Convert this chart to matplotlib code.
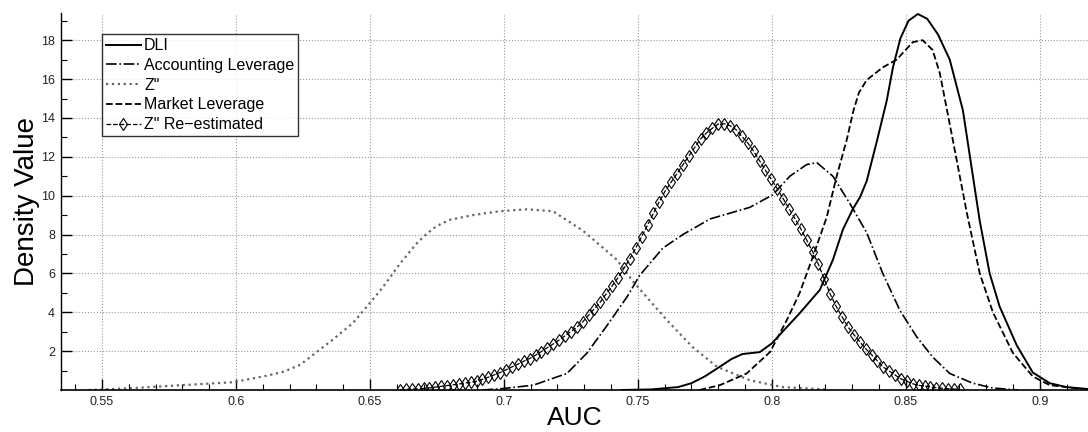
"""Kernel density of AUC values for the five default-prediction models."""

import matplotlib
matplotlib.use("Agg")
import matplotlib.pyplot as plt
from matplotlib.ticker import MultipleLocator, FixedLocator

plt.rcParams["font.family"] = ["Liberation Sans", "DejaVu Sans"]

# ── Data ─────────────────────────────────────────────────────────────
DLI_X = [0.744, 0.755, 0.765, 0.770, 0.775, 0.7806, 0.785, 0.789, 0.7955, 0.800,
         0.804, 0.8104, 0.8179, 0.8228, 0.8265, 0.8302, 0.833, 0.8354, 0.8392, 0.8429,
         0.8452, 0.848, 0.851, 0.8545, 0.858, 0.862, 0.8664, 0.8713, 0.8745, 0.8776,
         0.8813, 0.885, 0.8914, 0.8974, 0.9037, 0.910, 0.918]
DLI_Y = [0.0, 0.03, 0.15, 0.35, 0.7, 1.2, 1.6, 1.85, 1.95, 2.4,
         3.0, 3.95, 5.15, 6.7, 8.25, 9.3, 9.95, 10.75, 12.8, 14.9,
         16.6, 18.1, 19.0, 19.35, 19.1, 18.3, 17.0, 14.4, 11.5, 8.7,
         6.0, 4.3, 2.3, 0.9, 0.35, 0.15, 0.05]

ACC_X = [0.692, 0.700, 0.711, 0.7235, 0.731, 0.7384, 0.746, 0.7507, 0.7593, 0.7668,
         0.7769, 0.7918, 0.8004, 0.8067, 0.8130, 0.8168, 0.8228, 0.8291, 0.8354, 0.8414,
         0.8478, 0.854, 0.860, 0.8664, 0.875, 0.8825, 0.892]
ACC_Y = [0.0, 0.08, 0.25, 0.85, 1.9, 3.3, 4.8, 5.9, 7.3, 8.0,
         8.8, 9.4, 10.05, 11.0, 11.6, 11.7, 11.0, 9.6, 8.1, 6.0,
         4.1, 2.75, 1.7, 0.85, 0.35, 0.1, 0.0]

Z_X = [0.545, 0.5616, 0.580, 0.5989, 0.612, 0.618, 0.624, 0.6287, 0.6362, 0.6437,
       0.6489, 0.6549, 0.6612, 0.6675, 0.6705, 0.6735, 0.6765, 0.6799, 0.6884, 0.6985,
       0.7086, 0.7183, 0.7295, 0.7422, 0.7481, 0.7608, 0.7705, 0.7795, 0.7918, 0.804,
       0.820]
Z_Y = [0.0, 0.1, 0.25, 0.4, 0.75, 0.95, 1.3, 1.8, 2.6, 3.45,
       4.3, 5.3, 6.5, 7.55, 7.95, 8.3, 8.55, 8.76, 9.0, 9.2,
       9.3, 9.2, 8.2, 6.7, 5.6, 3.6, 2.2, 1.2, 0.5, 0.15,
       0.03]

MKT_X = [0.773, 0.7806, 0.7906, 0.7993, 0.8056, 0.8104, 0.8153, 0.8205, 0.8242, 0.828,
         0.8305, 0.8325, 0.8354, 0.8414, 0.8466, 0.8526, 0.8563, 0.860, 0.8627, 0.8675,
         0.8728, 0.8776, 0.8825, 0.890, 0.8974, 0.9037, 0.916]
MKT_Y = [0.0, 0.25, 0.85, 1.95, 3.6, 5.0, 6.85, 8.9, 11.0, 12.9,
         14.4, 15.3, 15.95, 16.6, 17.0, 17.9, 18.0, 17.5, 16.3, 12.9,
         9.1, 6.0, 4.0, 1.9, 0.7, 0.25, 0.05]

ZRE_X = [0.6612, 0.6634, 0.6656, 0.6678, 0.6700, 0.6722, 0.6744, 0.6766, 0.6788, 0.6810,
         0.6832, 0.6854, 0.6876, 0.6898, 0.6920, 0.6942, 0.6964, 0.6986, 0.7008, 0.7030,
         0.7052, 0.7074, 0.7096, 0.7118, 0.7140, 0.7162, 0.7184, 0.7206, 0.7228, 0.7250,
         0.7272, 0.7294, 0.7316, 0.7338, 0.7360, 0.7382, 0.7404, 0.7426, 0.7448, 0.7470,
         0.7492, 0.7514, 0.7536, 0.7558, 0.7580, 0.7602, 0.7624, 0.7646, 0.7668, 0.7690,
         0.7712, 0.7734, 0.7756, 0.7778, 0.7800, 0.7822, 0.7844, 0.7866, 0.7888, 0.7910,
         0.7932, 0.7954, 0.7976, 0.7998, 0.8020, 0.8042, 0.8064, 0.8086, 0.8108, 0.8130,
         0.8152, 0.8174, 0.8196, 0.8218, 0.8240, 0.8262, 0.8284, 0.8306, 0.8328, 0.8350,
         0.8372, 0.8394, 0.8416, 0.8438, 0.8460, 0.8482, 0.8504, 0.8526, 0.8548, 0.8570,
         0.8592, 0.8614, 0.8636, 0.8658, 0.8680, 0.8702]
ZRE_Y = [0.02, 0.03, 0.05, 0.06, 0.08, 0.11, 0.15, 0.19, 0.23, 0.27,
         0.31, 0.36, 0.40, 0.45, 0.55, 0.66, 0.78, 0.90, 1.04, 1.19,
         1.33, 1.48, 1.62, 1.79, 1.98, 2.18, 2.37, 2.57, 2.79, 3.01,
         3.23, 3.50, 3.85, 4.19, 4.53, 4.95, 5.36, 5.78, 6.26, 6.75,
         7.30, 7.89, 8.48, 9.09, 9.69, 10.24, 10.69, 11.14, 11.59, 12.04,
         12.48, 12.92, 13.23, 13.47, 13.69, 13.70, 13.60, 13.40, 13.05, 12.72,
         12.29, 11.80, 11.31, 10.84, 10.36, 9.85, 9.34, 8.82, 8.30, 7.72,
         7.12, 6.46, 5.70, 4.93, 4.31, 3.77, 3.25, 2.85, 2.49, 2.13,
         1.82, 1.50, 1.18, 0.98, 0.77, 0.57, 0.45, 0.32, 0.24, 0.20,
         0.16, 0.12, 0.09, 0.07, 0.05, 0.03]

X_TICKS = [0.55, 0.6, 0.65, 0.7, 0.75, 0.8, 0.85, 0.9]
X_TICK_LABELS = ["0.55", "0.6", "0.65", "0.7", "0.75", "0.8", "0.85", "0.9"]
Y_TICKS = [2, 4, 6, 8, 10, 12, 14, 16, 18]


fig = plt.figure(figsize=(10.88, 4.32), dpi=100)
ax = fig.add_axes([0.0558, 0.0972, 0.9442, 0.8727])

ax.plot(DLI_X, DLI_Y, color="black", linestyle="-", linewidth=1.4, label="DLI")
ax.plot(ACC_X, ACC_Y, color="black", linestyle="-.", linewidth=1.2, label="Accounting Leverage")
ax.plot(Z_X, Z_Y, color="0.4", linestyle=":", linewidth=1.6, label='Z"')
ax.plot(MKT_X, MKT_Y, color="black", linestyle="--", linewidth=1.3, label="Market Leverage")
ax.plot(ZRE_X, ZRE_Y, color="black", linestyle="--", linewidth=0.9, marker="d",
        markersize=6, markerfacecolor="none", markeredgewidth=0.8, label='Z" Re\u2212estimated')

ax.set_xlim(0.5346, 0.918)
ax.set_ylim(0, 19.4)

ax.set_xticks(X_TICKS)
ax.set_xticklabels(X_TICK_LABELS)
ax.xaxis.set_minor_locator(MultipleLocator(0.01))
ax.yaxis.set_major_locator(FixedLocator(Y_TICKS))
ax.yaxis.set_minor_locator(FixedLocator([1, 3, 5, 7, 9, 11, 13, 15, 17, 19]))
ax.tick_params(which="major", direction="in", length=8, width=1.0, labelsize=9,
               labelcolor="#222222", pad=4)
ax.tick_params(which="minor", direction="in", length=4, width=0.8)

ax.grid(True, which="major", linestyle=":", color="#999999", linewidth=0.8)
for side in ("top", "right"):
    ax.spines[side].set_visible(False)
ax.spines["left"].set_linewidth(1.0)
ax.spines["bottom"].set_linewidth(1.2)

ax.set_xlabel("AUC", fontsize=19, labelpad=-1)
ax.set_ylabel("Density Value", fontsize=20, labelpad=1)

leg = ax.legend(loc="upper left", bbox_to_anchor=(0.040, 0.944), borderaxespad=0,
                fontsize=11.5, frameon=True, fancybox=False, numpoints=1,
                handlelength=2.2, handletextpad=0.2, labelspacing=0.3, borderpad=0.25)
leg.get_frame().set_edgecolor("black")
leg.get_frame().set_linewidth(1.0)

fig.savefig("out.png", dpi=100)
